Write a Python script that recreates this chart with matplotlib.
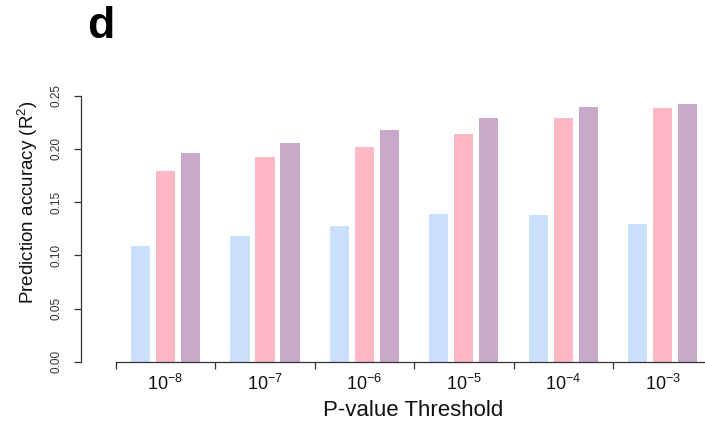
import matplotlib
matplotlib.use("Agg")
import matplotlib.pyplot as plt
import numpy as np

plt.rcParams['font.family'] = ['Liberation Sans', 'DejaVu Sans']
plt.rcParams['mathtext.default'] = 'regular'

thresholds = ["$10^{-8}$", "$10^{-7}$", "$10^{-6}$", "$10^{-5}$", "$10^{-4}$", "$10^{-3}$"]
blue_vals = [0.109, 0.118, 0.128, 0.1385, 0.138, 0.129]
pink_vals = [0.1795, 0.192, 0.202, 0.214, 0.229, 0.238]
purple_vals = [0.196, 0.206, 0.218, 0.229, 0.239, 0.242]
series = [blue_vals, pink_vals, purple_vals]
colors = ["#CADFFA", "#FDB7C5", "#C8A9C9"]
yticks = [0.00, 0.05, 0.10, 0.15, 0.20, 0.25]

W, H = 705, 426
fig = plt.figure(figsize=(W / 100, H / 100), dpi=100)
ax = fig.add_axes([81 / W, (H - 361.7) / H, 664 / W, 319.2 / H])

x = np.arange(len(thresholds))
step = 0.2513
width = 0.195
for k, (vals, c) in enumerate(zip(series, colors)):
    ax.bar(x + (k - 1) * step, vals, width=width, color=c, edgecolor='none', zorder=2)

ax.set_xlim(-0.848, 5.827)
ax.set_ylim(0, 0.30)

for s in ['top', 'right']:
    ax.spines[s].set_visible(False)
ax.spines['left'].set_bounds(0, 0.25)
ax.spines['bottom'].set_bounds(-0.5, len(thresholds) - 0.5)
for s in ['left', 'bottom']:
    ax.spines[s].set_color('#333333')
    ax.spines[s].set_linewidth(0.9)

ax.set_yticks(yticks)
ax.set_yticklabels([f"{v:.2f}" for v in yticks], rotation=90, va='center')
ax.tick_params(axis='y', length=5, width=0.9, color='#333333', pad=8, labelsize=8.5, labelcolor='#333333')

ax.set_xticks(np.arange(len(thresholds) + 1) - 0.5)
ax.set_xticklabels([])
ax.set_xticks(x, minor=True)
ax.set_xticklabels(thresholds, minor=True)
ax.tick_params(axis='x', which='major', length=5, width=0.9, color='#333333')
ax.tick_params(axis='x', which='minor', length=0, pad=9, labelsize=13, labelcolor='#111111')

ax.set_xlabel("P-value Threshold", fontsize=16, labelpad=4, color='#111111')
ax.set_ylabel("Prediction accuracy (R$^2$)", fontsize=13.5, labelpad=8, color='#111111')

fig.text(87 / W, 1 - 38 / H, "d", fontsize=32, fontweight='bold', ha='left', va='baseline')

fig.savefig("out.png", dpi=100)
